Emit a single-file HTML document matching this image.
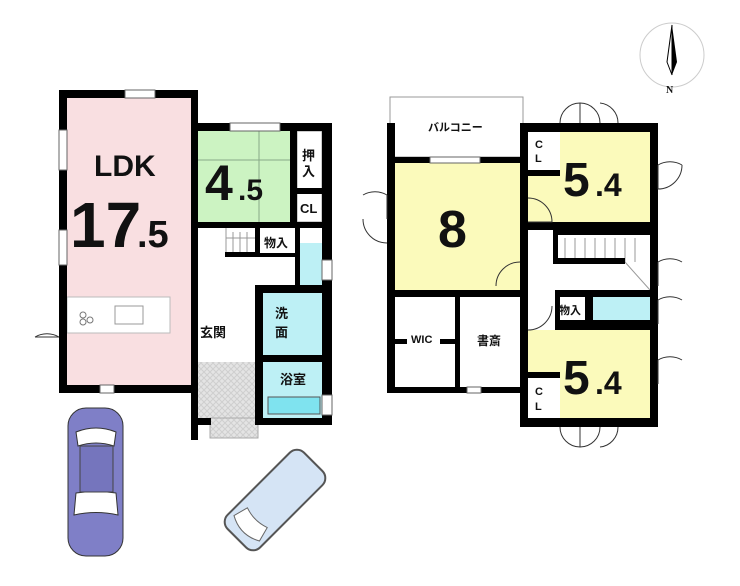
<!DOCTYPE html>
<html><head><meta charset="utf-8"><style>
html,body{margin:0;padding:0;background:#fff;width:740px;height:586px;overflow:hidden}
text{font-family:"Liberation Sans","Noto Sans CJK JP",sans-serif;font-weight:bold;fill:#111}
</style></head><body>
<svg width="740" height="586" viewBox="0 0 740 586" xmlns="http://www.w3.org/2000/svg">
<defs>
<pattern id="hatch" width="6" height="6" patternUnits="userSpaceOnUse"><rect width="6" height="6" fill="#e4e4e4"/><path d="M0 0L6 6M6 0L0 6" stroke="#cfcfcf" stroke-width="1"/></pattern>
</defs>
<!-- LEFT BUILDING -->
<rect x="67" y="98" width="124" height="287" fill="#f9dfe1"/>
<rect x="67" y="297" width="103" height="36" fill="#fff" stroke="#bbb"/>
<circle cx="83" cy="315" r="3" fill="none" stroke="#777"/><circle cx="90" cy="320" r="3" fill="none" stroke="#777"/><circle cx="83" cy="322" r="3" fill="none" stroke="#777"/>
<rect x="115" y="306" width="28" height="18" fill="none" stroke="#999"/>
<rect x="198" y="131" width="92" height="91" fill="#ccf3c2"/>
<line x1="198" y1="160" x2="290" y2="160" stroke="#8a8" /><line x1="259" y1="131" x2="259" y2="222" stroke="#8a8"/>
<rect x="297" y="131" width="25" height="59" fill="#fff" stroke="#999"/>
<rect x="297" y="193" width="25" height="29" fill="#fff" stroke="#999"/>
<rect x="297" y="243" width="25" height="42" fill="#bdf0f5"/>
<rect x="263" y="293" width="59" height="62" fill="#bdf0f5"/>
<rect x="263" y="362" width="59" height="56" fill="#bdf0f5"/>
<rect x="268" y="397" width="52" height="17" fill="#7fe3ef" stroke="#555"/>
<rect x="198" y="362" width="57" height="56" fill="url(#hatch)"/>
<rect x="210" y="418" width="48" height="20" fill="url(#hatch)" stroke="#aaa"/>
<g stroke="#999"><line x1="226" y1="228" x2="226" y2="252"/><line x1="233" y1="232" x2="233" y2="252"/><line x1="240" y1="232" x2="240" y2="252"/><line x1="247" y1="232" x2="247" y2="252"/><line x1="226" y1="238" x2="255" y2="238"/></g>
<g fill="#000">
<rect x="59" y="90" width="139" height="8"/>
<rect x="59" y="90" width="8" height="303"/>
<rect x="59" y="385" width="139" height="8"/>
<rect x="191" y="90" width="7" height="303"/>
<rect x="191" y="123" width="141" height="8"/>
<rect x="322" y="123" width="10" height="105"/>
<rect x="290" y="123" width="7" height="99"/>
<rect x="290" y="188" width="42" height="6"/>
<rect x="198" y="222" width="134" height="6"/>
<rect x="322" y="228" width="10" height="197"/>
<rect x="295" y="228" width="5" height="57"/>
<rect x="258" y="253" width="40" height="4"/>
<rect x="255" y="228" width="5" height="28"/>
<rect x="255" y="285" width="77" height="8"/>
<rect x="255" y="285" width="8" height="140"/>
<rect x="255" y="355" width="77" height="7"/>
<rect x="255" y="418" width="77" height="7"/>
<rect x="191" y="355" width="7" height="85"/>
<rect x="191" y="418" width="20" height="7"/>
<rect x="225" y="252" width="35" height="5"/>
</g>
<rect x="125" y="90" width="30" height="8" fill="#fff" stroke="#666"/>
<rect x="59" y="130" width="8" height="40" fill="#fff" stroke="#666"/>
<rect x="59" y="230" width="8" height="35" fill="#fff" stroke="#666"/>
<rect x="230" y="123" width="50" height="8" fill="#fff" stroke="#666"/>
<rect x="100" y="385" width="14" height="8" fill="#fff" stroke="#666"/>
<path d="M59 337 A24 24 0 0 0 35 337" fill="none" stroke="#333"/><line x1="35" y1="337" x2="59" y2="337" stroke="#333"/>
<rect x="322" y="260" width="10" height="20" fill="#fff" stroke="#666"/>
<rect x="322" y="395" width="10" height="20" fill="#fff" stroke="#666"/>
<text x="94" y="176" font-size="30">LDK</text>
<text x="70" y="247" font-size="64">17</text><text x="137" y="247" font-size="38">.5</text>
<text x="205" y="200" font-size="50">4</text><text x="238" y="200" font-size="30">.5</text>
<text x="302" y="160" font-size="13">押</text><text x="302" y="176" font-size="13">入</text>
<text x="300" y="213" font-size="13">CL</text>
<text x="264" y="247" font-size="12">物入</text>
<text x="275" y="318" font-size="13">洗</text><text x="275" y="337" font-size="13">面</text>
<text x="280" y="384" font-size="13">浴室</text>
<text x="200" y="337" font-size="13">玄関</text>
<!-- RIGHT BUILDING -->
<rect x="390" y="97" width="133" height="60" fill="#fff" stroke="#999"/>
<rect x="395" y="163" width="125" height="127" fill="#fbfabb"/>
<rect x="560" y="132" width="90" height="90" fill="#fbfabb"/>
<rect x="528" y="175" width="122" height="47" fill="#fbfabb"/>
<rect x="560" y="330" width="90" height="88" fill="#fbfabb"/>
<rect x="528" y="330" width="122" height="45" fill="#fbfabb"/>
<rect x="593" y="297" width="57" height="23" fill="#bdf0f5"/>
<g stroke="#999"><line x1="565" y1="238" x2="565" y2="262"/><line x1="575" y1="238" x2="575" y2="262"/><line x1="585" y1="238" x2="585" y2="262"/><line x1="595" y1="238" x2="595" y2="262"/><line x1="605" y1="238" x2="605" y2="262"/><line x1="615" y1="238" x2="615" y2="262"/><line x1="625" y1="238" x2="625" y2="262"/><line x1="635" y1="238" x2="635" y2="262"/><line x1="625" y1="262" x2="650" y2="290"/></g>
<g fill="#000">
<rect x="387" y="123" width="8" height="270"/>
<rect x="387" y="157" width="133" height="6"/>
<rect x="520" y="123" width="8" height="304"/>
<rect x="520" y="123" width="138" height="9"/>
<rect x="650" y="123" width="8" height="304"/>
<rect x="520" y="170" width="40" height="6"/>
<rect x="520" y="222" width="138" height="8"/>
<rect x="555" y="230" width="95" height="5"/>
<rect x="555" y="258" width="70" height="6"/>
<rect x="553" y="230" width="5" height="34"/>
<rect x="387" y="290" width="133" height="7"/>
<rect x="455" y="297" width="5" height="93"/>
<rect x="387" y="387" width="133" height="6"/>
<rect x="395" y="339" width="12" height="5"/><rect x="440" y="339" width="15" height="5"/>
<rect x="555" y="290" width="103" height="7"/>
<rect x="585" y="297" width="8" height="23"/>
<rect x="555" y="297" width="5" height="25"/>
<rect x="555" y="320" width="103" height="10"/>
<rect x="520" y="372" width="40" height="6"/>
<rect x="520" y="418" width="138" height="9"/>
</g>
<rect x="430" y="157" width="50" height="6" fill="#fff" stroke="#666"/>
<rect x="467" y="387" width="14" height="6" fill="#fff" stroke="#666"/>
<g fill="none" stroke="#333">
<path d="M560 123 A20 20 0 0 1 580 103 V123"/><path d="M600 123 A20 20 0 0 0 580 103"/><path d="M600 103 A20 20 0 0 1 618 123"/>
<path d="M560 427 A20 20 0 0 0 580 447 V427"/><path d="M600 427 A20 20 0 0 1 580 447"/><path d="M600 447 A20 20 0 0 0 618 427"/>
<path d="M658 165 A24 24 0 0 1 682 165 M658 165 V189 A24 24 0 0 0 682 165"/>
<path d="M658 262 A24 24 0 0 1 682 262 M658 262 V286"/>
<path d="M658 300 A24 24 0 0 1 682 300 M658 300 V324"/>
<path d="M658 360 A24 24 0 0 1 682 360 M658 360 V384"/>
<path d="M387 195 A24 24 0 0 0 363 195 M387 195 V219 M363 219 A24 24 0 0 0 387 243"/>
<path d="M528 198 A24 24 0 0 1 552 222 H528"/>
<path d="M520 262 A24 24 0 0 0 496 286"/>
<path d="M528 330 A24 24 0 0 0 552 306"/>
</g>
<text x="428" y="131" font-size="11">バルコニー</text>
<text x="438" y="247" font-size="52">8</text>
<text x="535" y="148" font-size="11">C</text><text x="535" y="162" font-size="11">L</text>
<text x="563" y="196" font-size="48">5</text><text x="595" y="196" font-size="32">.4</text>
<text x="535" y="395" font-size="11">C</text><text x="535" y="410" font-size="11">L</text>
<text x="563" y="394" font-size="48">5</text><text x="595" y="394" font-size="32">.4</text>
<text x="411" y="343" font-size="11">WIC</text>
<text x="477" y="345" font-size="12">書斎</text>
<text x="559" y="314" font-size="11">物入</text>
<!-- compass -->
<circle cx="672" cy="55" r="32" fill="none" stroke="#ccc"/>
<path d="M672 25 L667 62 L672 75 Z" fill="#fff" stroke="#000"/><path d="M672 25 L677 62 L672 75 Z" fill="#000"/>
<text x="666" y="93" font-size="10" font-weight="normal" style="font-family:'Liberation Serif',serif">N</text>
<!-- cars -->
<g>
<rect x="68" y="408" width="55" height="148" rx="18" fill="#7f7fc7" stroke="#333"/>
<path d="M76 432 Q96 424 116 432 L114 446 Q96 440 78 446 Z" fill="#fff" stroke="#333"/>
<path d="M76 493 Q96 490 116 493 L118 515 Q96 510 74 515 Z" fill="#fff" stroke="#333"/>
<rect x="80" y="446" width="33" height="46" fill="#7575bd" stroke="#444"/>
</g>
<g transform="translate(275,500) rotate(-45)">
<rect x="-54" y="-23" width="108" height="46" rx="10" fill="#d5e4f5" stroke="#555" stroke-width="2"/>
<path d="M-40 -18 Q-50 0 -40 18 L-25 14 Q-30 0 -25 -14 Z" fill="#fff" stroke="#666"/>
</g>
</svg>
</body></html>
